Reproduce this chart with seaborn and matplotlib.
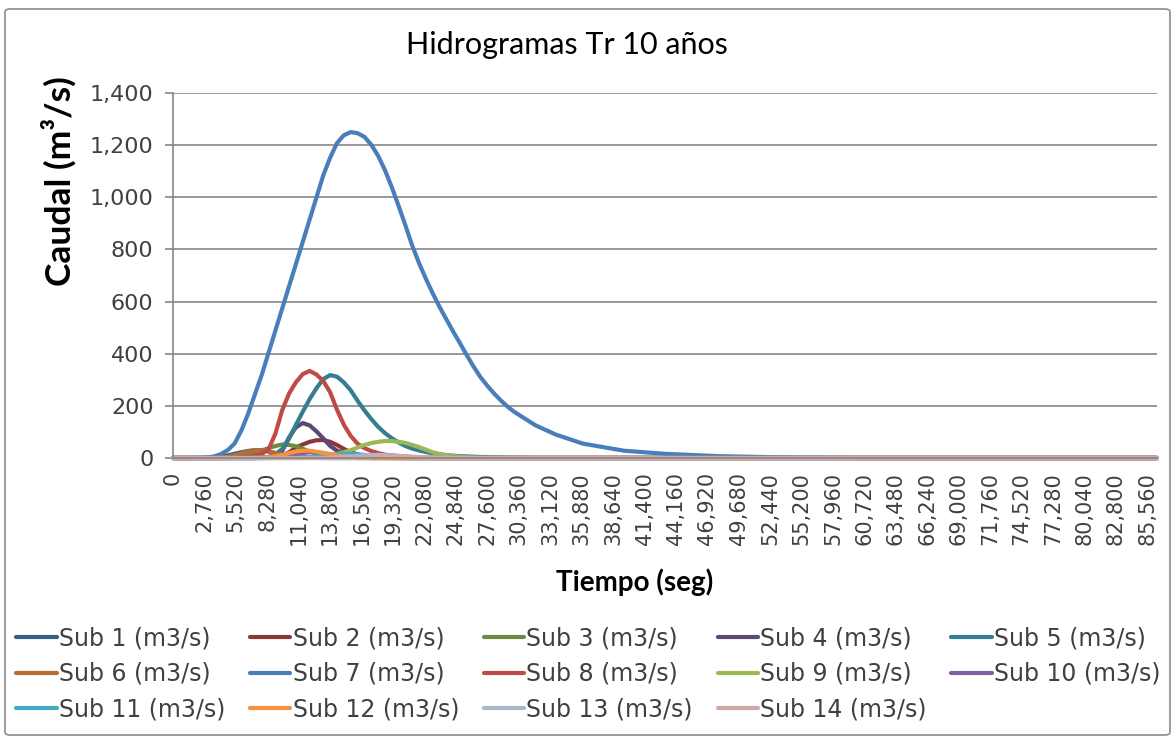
import numpy as np
import pandas as pd
import matplotlib
matplotlib.use("Agg")
import matplotlib.pyplot as plt
import seaborn as sns
from matplotlib.patches import FancyBboxPatch
from matplotlib.ticker import FuncFormatter, FixedLocator

# ---------------- data (time in s, flow in m3/s) ----------------
tiempo = list(range(0, 30001, 600)) + [31800, 33600, 36000, 39600, 43200,
                                       48000, 54000, 60000, 72000, 86400]

# non-zero readings of each hydrograph (every other time step the flow is 0)
sub1 = {3000: 1, 3600: 2, 4200: 5, 4800: 10, 5400: 16, 6000: 22, 6600: 27,
        7200: 30, 7800: 29, 8400: 25, 9000: 19, 9600: 14, 10200: 9, 10800: 6,
        11400: 4, 12000: 2, 12600: 1}
sub2 = {8400: 2, 9000: 5, 9600: 10, 10200: 22, 10800: 40, 11400: 52, 12000: 62,
        12600: 68, 13200: 69, 13800: 62, 14400: 50, 15000: 35, 15600: 22,
        16200: 14, 16800: 9, 17400: 5, 18000: 3, 18600: 2, 19200: 1}
sub3 = {5400: 2, 6000: 5, 6600: 12, 7200: 20, 7800: 29, 8400: 38, 9000: 46,
        9600: 52, 10200: 50, 10800: 45, 11400: 35, 12000: 25, 12600: 17,
        13200: 10, 13800: 6, 14400: 4, 15000: 2, 15600: 1}
sub4 = {7800: 1, 8400: 4, 9000: 11, 9600: 28, 10200: 80, 10800: 118, 11400: 134,
        12000: 125, 12600: 102, 13200: 75, 13800: 46, 14400: 28, 15000: 19,
        15600: 13, 16200: 8, 16800: 5, 17400: 3, 18000: 2, 18600: 1}
sub5 = {7800: 1, 8400: 4, 9000: 14, 9600: 35, 10200: 75, 10800: 128, 11400: 178,
        12000: 226, 12600: 268, 13200: 303, 13800: 318, 14400: 312, 15000: 290,
        15600: 260, 16200: 220, 16800: 183, 17400: 150, 18000: 120, 18600: 96,
        19200: 76, 19800: 60, 20400: 46, 21000: 36, 21600: 29, 22200: 23,
        22800: 18, 23400: 14, 24000: 11, 24600: 9, 25200: 7, 25800: 6,
        26400: 5, 27000: 4, 27600: 3, 28200: 2, 28800: 2, 29400: 1, 30000: 1}
sub6 = {4200: 2, 4800: 5, 5400: 11, 6000: 18, 6600: 25, 7200: 30, 7800: 29,
        8400: 25, 9000: 18, 9600: 12, 10200: 8, 10800: 5, 11400: 3, 12000: 2,
        12600: 1}
sub7 = {2400: 1, 3000: 2, 3600: 6, 4200: 15, 4800: 30, 5400: 55, 6000: 105,
        6600: 170, 7200: 245, 7800: 320, 8400: 405, 9000: 490, 9600: 575,
        10200: 660, 10800: 745, 11400: 830, 12000: 915, 12600: 1000,
        13200: 1085, 13800: 1152, 14400: 1208, 15000: 1238, 15600: 1250,
        16200: 1246, 16800: 1232, 17400: 1202, 18000: 1160, 18600: 1105,
        19200: 1040, 19800: 968, 20400: 893, 21000: 815, 21600: 748,
        22200: 688, 22800: 632, 23400: 580, 24000: 532, 24600: 485,
        25200: 440, 25800: 394, 26400: 350, 27000: 310, 27600: 277,
        28200: 247, 28800: 220, 29400: 196, 30000: 176, 31800: 126,
        33600: 90, 36000: 55, 39600: 28, 43200: 16, 48000: 7, 54000: 2}
sub8 = {5400: 1, 6000: 2, 6600: 4, 7200: 8, 7800: 16, 8400: 33, 9000: 95,
        9600: 185, 10200: 248, 10800: 291, 11400: 322, 12000: 334, 12600: 320,
        13200: 295, 13800: 252, 14400: 185, 15000: 128, 15600: 85, 16200: 55,
        16800: 38, 17400: 27, 18000: 19, 18600: 13, 19200: 10, 19800: 8,
        20400: 5, 21000: 3, 21600: 2, 22200: 1}
sub9 = {12000: 2, 12600: 3, 13200: 5, 13800: 9, 14400: 15, 15000: 22, 15600: 30,
        16200: 40, 16800: 50, 17400: 57, 18000: 62, 18600: 65, 19200: 65,
        19800: 62, 20400: 58, 21000: 50, 21600: 42, 22200: 32, 22800: 22,
        23400: 15, 24000: 11, 24600: 7, 25200: 5, 25800: 3, 26400: 2, 27000: 1}
sub10 = {9000: 2, 9600: 5, 10200: 10, 10800: 15, 11400: 19, 12000: 22, 12600: 21,
         13200: 18, 13800: 14, 14400: 10, 15000: 7, 15600: 4, 16200: 2, 16800: 1}
sub11 = {11400: 1, 12000: 3, 12600: 5, 13200: 8, 13800: 11, 14400: 14, 15000: 16,
         15600: 16, 16200: 14, 16800: 12, 17400: 9, 18000: 7, 18600: 5,
         19200: 3, 19800: 2, 20400: 1}
sub12 = {7800: 1, 8400: 3, 9000: 7, 9600: 12, 10200: 19, 10800: 25, 11400: 28,
         12000: 28, 12600: 24, 13200: 20, 13800: 15, 14400: 10, 15000: 7,
         15600: 4, 16200: 2, 16800: 1}
sub13 = {13800: 1, 14400: 2, 15000: 4, 15600: 6, 16200: 8, 16800: 10, 17400: 11,
         18000: 12, 18600: 11, 19200: 10, 19800: 8, 20400: 6, 21000: 4,
         21600: 3, 22200: 2, 22800: 1}
sub14 = {16200: 1, 16800: 2, 17400: 3, 18000: 5, 18600: 6, 19200: 7, 19800: 7,
         20400: 6, 21000: 5, 21600: 4, 22200: 3, 22800: 2, 23400: 1, 24000: 1}

series_names = [f"Sub {i} (m3/s)" for i in range(1, 15)]
series_values = [sub1, sub2, sub3, sub4, sub5, sub6, sub7, sub8, sub9, sub10,
                 sub11, sub12, sub13, sub14]
colores = ["#385D8A", "#8C3836", "#71893F", "#5C4776", "#357D91", "#B66D31",
           "#4A7EBB", "#BE4B48", "#98B954", "#7D60A0", "#46AAC5", "#F69240",
           "#A9B8D0", "#D0A8A8"]

x_ticks = list(range(0, 85561, 2760))
y_ticks = [0, 200, 400, 600, 800, 1000, 1200, 1400]

titulo = "Hidrogramas Tr 10 años"
ylab = "Caudal (m³/s)"
xlab = "Tiempo (seg)"

# ---------------- build frame ----------------
rows = []
for name, vals in zip(series_names, series_values):
    for t in tiempo:
        rows.append((name, t, vals.get(t, 0)))
df = pd.DataFrame(rows, columns=["serie", "t", "q"])

sns.set_theme(style="white")
plt.rcParams["font.family"] = ["DejaVu Sans"]

W, H = 1176, 742
fig = plt.figure(figsize=(W / 100, H / 100), dpi=100)
fig.patch.set_facecolor("white")

border = FancyBboxPatch((5 / W, 7 / H), (1165 / W), (726 / H),
                        boxstyle="round,pad=0,rounding_size=0.004",
                        transform=fig.transFigure, fill=False,
                        edgecolor="#8c8c8c", linewidth=1.2)
fig.patches.append(border)

L, R, T, B = 173, 1157, 93, 458
ax = fig.add_axes([L / W, 1 - B / H, (R - L) / W, (B - T) / H])

sns.lineplot(data=df, x="t", y="q", hue="serie", hue_order=series_names,
             palette=colores, linewidth=3, errorbar=None, sort=True,
             estimator=None, ax=ax, legend=True)
for ln in ax.get_lines():
    ln.set_clip_on(False)
    ln.set_solid_joinstyle("round")

ax.set_xlim(0, 86400)
ax.set_ylim(0, 1400)
ax.xaxis.set_major_locator(FixedLocator(x_ticks))
ax.yaxis.set_major_locator(FixedLocator(y_ticks))
fmt = FuncFormatter(lambda v, p: f"{v:,.0f}")
ax.xaxis.set_major_formatter(fmt)
ax.yaxis.set_major_formatter(fmt)

ax.grid(axis="y", color="#868686", linewidth=1.2)
ax.grid(axis="x", visible=False)
ax.set_axisbelow(True)
for s in ["top", "right"]:
    ax.spines[s].set_visible(False)
for s in ["left", "bottom"]:
    ax.spines[s].set_color("#868686")
    ax.spines[s].set_linewidth(1.2)

ax.tick_params(axis="y", which="major", left=True, length=6, width=1.2,
               color="#868686", pad=8, labelsize=16, labelcolor="#404040")
ax.tick_params(axis="x", which="major", bottom=False, length=0, pad=10,
               labelsize=15, labelcolor="#404040", labelrotation=90)
for lab in ax.get_xticklabels():
    lab.set_va("top")
    lab.set_ha("center")

ax.set_xlabel("")
ax.set_ylabel("")

fig.text(567 / W, 1 - 45 / H, titulo, ha="center", va="center",
         fontsize=22, family=["Lato", "DejaVu Sans"], color="black")
fig.text(59 / W, 1 - 181 / H, ylab, ha="center", va="center", rotation=90,
         fontsize=25.5, fontweight="bold", family=["Lato", "DejaVu Sans"],
         color="black")
fig.text(635 / W, 1 - 582 / H, xlab, ha="center", va="center",
         fontsize=20, fontweight="bold", family=["Lato", "DejaVu Sans"],
         color="black")

handles, labels = ax.get_legend_handles_labels()
ax.get_legend().remove()
# matplotlib fills legend columns first; reorder so rows read Sub 1..5, 6..10, 11..14
order = [0, 5, 10, 1, 6, 11, 2, 7, 12, 3, 8, 13, 4, 9]
handles = [handles[i] for i in order]
labels = [labels[i] for i in order]
leg = fig.legend(handles, labels, ncol=5, loc="upper left",
                 bbox_to_anchor=(7 / W, 1 - 617 / H), frameon=False,
                 fontsize=17, handlelength=1.7, handletextpad=0.1,
                 columnspacing=1.05, labelspacing=0.48, borderaxespad=0)
for t in leg.get_texts():
    t.set_color("#404040")
for h in leg.get_lines():
    h.set_linewidth(3)

fig.savefig("out.png", dpi=100, facecolor="white")
